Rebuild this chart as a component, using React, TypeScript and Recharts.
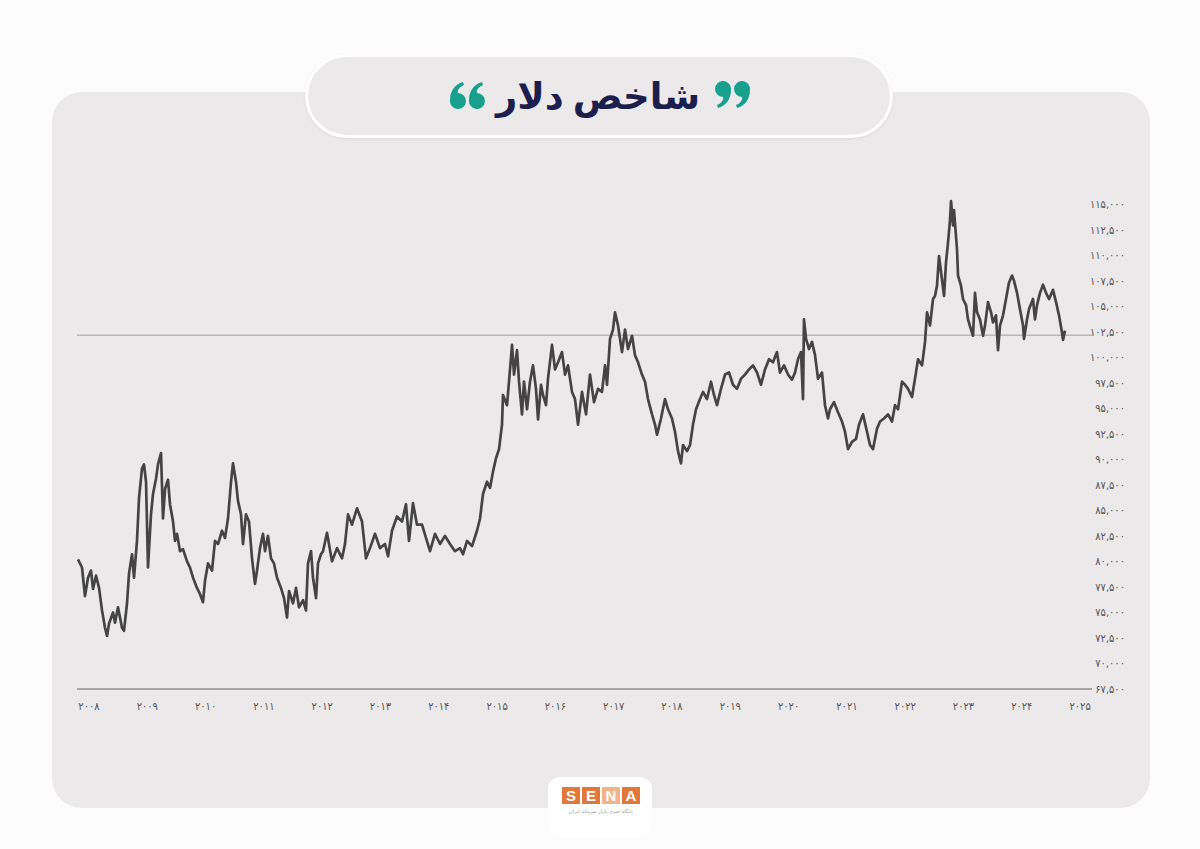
import React from 'react';
import { LineChart, Line, XAxis, YAxis, ReferenceLine } from 'recharts';

// US dollar index: [decimal year, index]
const dxy2008to2012: [number, number][] = [
  [2007.811, 80.2], [2007.88, 79.4], [2007.931, 76.6], [2007.983, 78.4], [2008.034, 79.1], [2008.069, 77.3],
  [2008.12, 78.6], [2008.172, 77.4], [2008.223, 75.2], [2008.274, 73.5], [2008.309, 72.7], [2008.343, 73.9],
  [2008.412, 75.0], [2008.446, 74.0], [2008.497, 75.5], [2008.566, 73.5], [2008.6, 73.2], [2008.652, 75.9],
  [2008.686, 78.8], [2008.738, 80.7], [2008.772, 78.4], [2008.823, 82.0], [2008.858, 86.2], [2008.909, 89.1],
  [2008.943, 89.5], [2008.978, 87.8], [2009.012, 79.4], [2009.063, 84.6], [2009.098, 86.6], [2009.149, 88.1],
  [2009.184, 89.5], [2009.235, 90.6], [2009.269, 84.2], [2009.304, 87.1], [2009.355, 88.0], [2009.389, 85.6],
  [2009.441, 83.9], [2009.475, 82.0], [2009.509, 82.7], [2009.561, 81.0], [2009.612, 81.2], [2009.681, 80.0],
  [2009.732, 79.4], [2009.784, 78.4], [2009.852, 77.4], [2009.904, 76.8], [2009.955, 76.0], [2009.99, 78.1],
  [2010.041, 79.8], [2010.11, 79.1], [2010.161, 82.0], [2010.213, 81.7], [2010.281, 83.0], [2010.333, 82.3],
  [2010.384, 84.2], [2010.436, 87.8], [2010.47, 89.6], [2010.521, 87.8], [2010.556, 85.9], [2010.607, 84.6],
  [2010.641, 81.7], [2010.693, 84.6], [2010.744, 83.9], [2010.796, 80.3], [2010.847, 77.8], [2010.882, 79.1],
  [2010.933, 81.3], [2010.985, 82.7], [2011.019, 81.0], [2011.07, 82.5], [2011.122, 80.3], [2011.173, 79.8],
  [2011.225, 78.4], [2011.293, 77.4], [2011.345, 76.4], [2011.396, 74.5], [2011.431, 77.1], [2011.499, 75.9],
  [2011.551, 77.4], [2011.602, 75.5], [2011.671, 76.2], [2011.722, 75.2], [2011.756, 79.8], [2011.808, 81.0],
  [2011.842, 78.4], [2011.894, 76.4], [2011.928, 79.8], [2011.979, 80.7], [2012.014, 81.0], [2012.082, 82.8],
];

const dxy2012to2016: [number, number][] = [
  [2012.168, 80.0], [2012.254, 81.3], [2012.34, 80.3], [2012.391, 81.7], [2012.443, 84.6], [2012.511, 83.6],
  [2012.597, 85.2], [2012.683, 83.9], [2012.751, 80.3], [2012.82, 81.3], [2012.906, 82.7], [2012.991, 81.3],
  [2013.077, 81.7], [2013.129, 80.5], [2013.197, 83.0], [2013.283, 84.4], [2013.369, 83.9], [2013.437, 85.6],
  [2013.489, 82.0], [2013.557, 85.7], [2013.626, 83.6], [2013.712, 83.6], [2013.78, 82.3], [2013.849, 81.0],
  [2013.935, 82.7], [2014.021, 81.7], [2014.106, 82.5], [2014.192, 81.7], [2014.278, 81.0], [2014.364, 81.3],
  [2014.415, 80.7], [2014.484, 82.0], [2014.57, 81.5], [2014.655, 83.0], [2014.707, 84.2], [2014.758, 86.6],
  [2014.827, 87.8], [2014.878, 87.2], [2014.93, 88.8], [2014.981, 90.1], [2015.033, 91.0], [2015.084, 93.4],
  [2015.101, 96.3], [2015.17, 95.3], [2015.204, 97.6], [2015.256, 101.2], [2015.29, 98.3], [2015.341, 100.7],
  [2015.376, 97.6], [2015.427, 94.4], [2015.461, 97.6], [2015.513, 94.9], [2015.564, 97.6], [2015.616, 99.2],
  [2015.667, 96.9], [2015.702, 93.9], [2015.753, 97.3], [2015.787, 96.3], [2015.839, 95.3], [2015.873, 97.9],
  [2015.942, 101.2], [2015.993, 98.8], [2016.045, 99.5], [2016.113, 100.5], [2016.165, 98.3], [2016.216, 99.2],
  [2016.285, 96.6], [2016.336, 95.9], [2016.388, 93.4],
];

const dxy2016to2020: [number, number][] = [
  [2016.456, 96.6], [2016.525, 94.4], [2016.593, 98.3], [2016.662, 95.6], [2016.731, 96.9], [2016.799, 96.6],
  [2016.851, 99.2], [2016.885, 97.3], [2016.937, 101.8], [2016.988, 102.7], [2017.022, 104.4], [2017.074, 103.1],
  [2017.142, 100.5], [2017.194, 102.7], [2017.245, 100.8], [2017.314, 102.1], [2017.365, 100.2], [2017.417, 99.5],
  [2017.485, 98.3], [2017.537, 97.6], [2017.588, 95.9], [2017.657, 94.4], [2017.708, 93.4], [2017.743, 92.4],
  [2017.811, 94.0], [2017.88, 95.9], [2017.931, 94.9], [2018.0, 94.0], [2018.051, 92.7], [2018.103, 90.8],
  [2018.154, 89.6], [2018.189, 91.4], [2018.257, 90.8], [2018.309, 91.4], [2018.36, 93.4], [2018.412, 94.9],
  [2018.48, 95.9], [2018.532, 96.6], [2018.6, 95.9], [2018.669, 97.6], [2018.72, 96.3], [2018.772, 95.3],
  [2018.84, 96.9], [2018.909, 98.3], [2018.978, 98.5], [2019.046, 97.3], [2019.115, 96.9], [2019.184, 97.9],
  [2019.252, 98.3], [2019.321, 98.8], [2019.389, 99.2], [2019.458, 98.5], [2019.527, 97.3], [2019.595, 98.8],
  [2019.664, 99.8], [2019.732, 99.5], [2019.801, 100.5], [2019.852, 98.5], [2019.921, 99.2], [2019.99, 98.3],
  [2020.058, 97.8], [2020.11, 98.5], [2020.161, 99.8], [2020.213, 100.5], [2020.247, 95.9], [2020.264, 103.7],
  [2020.299, 101.8], [2020.35, 100.8], [2020.401, 101.5], [2020.453, 100.2], [2020.504, 97.9], [2020.573, 98.5],
  [2020.624, 95.3], [2020.676, 94.0],
];

const dxy2020to2024: [number, number][] = [
  [2020.71, 94.9], [2020.779, 95.6], [2020.847, 94.6], [2020.916, 93.7], [2020.967, 92.7], [2021.019, 91.0],
  [2021.087, 91.7], [2021.156, 92.0], [2021.208, 93.4], [2021.276, 94.4], [2021.345, 92.7], [2021.396, 91.4],
  [2021.448, 91.0], [2021.516, 93.0], [2021.568, 93.7], [2021.636, 94.0], [2021.705, 94.4], [2021.774, 93.7],
  [2021.825, 95.3], [2021.877, 94.9], [2021.945, 97.6], [2021.997, 97.3], [2022.048, 96.9], [2022.117, 96.1],
  [2022.168, 97.9], [2022.22, 99.8], [2022.288, 99.2], [2022.34, 101.5], [2022.374, 104.4], [2022.425, 103.1],
  [2022.477, 105.7], [2022.511, 106.0], [2022.545, 107.0], [2022.58, 109.9], [2022.631, 107.6], [2022.666, 106.0],
  [2022.7, 109.3], [2022.734, 111.2], [2022.768, 113.4], [2022.786, 115.3], [2022.82, 112.9], [2022.837, 114.4],
  [2022.889, 110.5], [2022.906, 108.0], [2022.957, 107.0], [2022.991, 105.7], [2023.043, 105.1], [2023.077, 103.7],
  [2023.129, 102.7], [2023.163, 102.1], [2023.197, 106.3], [2023.232, 104.4], [2023.283, 103.7], [2023.335, 102.1],
  [2023.369, 103.1], [2023.42, 105.4], [2023.472, 104.4], [2023.506, 103.4], [2023.557, 104.1], [2023.592, 100.7],
  [2023.626, 103.1], [2023.678, 104.1], [2023.729, 105.7], [2023.78, 107.3], [2023.832, 108.0], [2023.866, 107.5],
  [2023.918, 106.3], [2023.969, 104.7], [2024.021, 103.1], [2024.038, 101.8], [2024.089, 103.7], [2024.123, 104.7],
  [2024.192, 105.7], [2024.226, 103.7], [2024.261, 105.1], [2024.312, 106.3], [2024.364, 107.1], [2024.415, 106.3],
  [2024.467, 105.7], [2024.535, 106.6], [2024.587, 105.4], [2024.638, 104.1], [2024.69, 102.4], [2024.707, 101.7],
  [2024.741, 102.6],
];

const yearTicks = [2008, 2009, 2010, 2011, 2012, 2013, 2014, 2015, 2016, 2017, 2018, 2019, 2020, 2021, 2022, 2023, 2024, 2025];
const valueTicks = [67500, 70000, 72500, 75000, 77500, 80000, 82500, 85000, 87500, 90000, 92500, 95000, 97500, 100000, 102500, 105000, 107500, 110000, 112500, 115000];
const refLevel = 102150;

const faDigits = '۰۱۲۳۴۵۶۷۸۹';
const toFa = (s: string) => s.replace(/\d/g, (d) => faDigits[Number(d)]);

const tickFont = "'DejaVu Sans Condensed', 'DejaVu Sans', sans-serif";

const YearTick = ({ x, y, payload }: any) => (
  <text x={x} y={y + 21} textAnchor="middle" fontSize={11} fill="#555" fontFamily={tickFont}>
    {toFa(String(payload.value))}
  </text>
);

const ValueTick = ({ x, y, payload }: any) => (
  <text x={x + 33} y={y + 4} textAnchor="end" fontSize={11} fill="#555" fontFamily={tickFont}>
    {toFa(payload.value.toLocaleString('en-US'))}
  </text>
);

// teal "6"-shaped quote mark; flipped it becomes the "9" shape
const quoteMark = 'M0 18 C0 9 5 2 13 0 L14 3 C9 5 7 9 8 11 A8 8 0 1 1 0 18 Z';

const Quotes = ({ flip }: { flip?: boolean }) => (
  <svg width={38} height={28} viewBox="0 0 38 28" style={{ display: 'block' }}>
    <g fill="#18a08f" transform={flip ? 'rotate(180 19 14)' : undefined}>
      <path d={quoteMark} transform="translate(1 1)" />
      <path d={quoteMark} transform="translate(20 1)" />
    </g>
  </svg>
);

export default function App() {
  const data = [...dxy2008to2012, ...dxy2012to2016, ...dxy2016to2020, ...dxy2020to2024].map(([t, v]) => ({ t, v: v * 1000 }));

  return (
    <div style={{ position: 'absolute', left: 0, top: 0, width: 1200, height: 849, background: '#fcfcfc', overflow: 'hidden', fontFamily: "'DejaVu Sans', sans-serif" }}>
      {/* gray card */}
      <div style={{ position: 'absolute', left: 52, top: 92, width: 1098, height: 716, borderRadius: 30, background: '#ebe9ea' }} />

      {/* title pill */}
      <div
        style={{
          position: 'absolute', left: 305, top: 54, width: 588, height: 84, boxSizing: 'border-box',
          borderRadius: 42, background: '#ebe9ea', border: '3px solid #fff', boxShadow: '0 1px 3px rgba(0,0,0,0.08)',
        }}
      >
        <div style={{ position: 'absolute', left: 141, top: 24 }}>
          <Quotes />
        </div>
        <div dir="rtl" style={{ position: 'absolute', left: 140, width: 300, top: 16, textAlign: 'center', color: '#1c1f4d', fontSize: 37, fontWeight: 700, lineHeight: '48px', whiteSpace: 'nowrap', wordSpacing: -4 }}>
          شاخص دلار
        </div>
        <div style={{ position: 'absolute', left: 405, top: 24 }}>
          <Quotes flip />
        </div>
      </div>

      {/* chart */}
      <div style={{ position: 'absolute', left: 0, top: 0 }}>
        <LineChart width={1200} height={849} data={data} margin={{ top: 201, right: 68, bottom: 140, left: 77 }}>
          <XAxis
            dataKey="t"
            type="number"
            domain={[2007.794, 2025.204]}
            ticks={yearTicks}
            interval={0}
            height={20}
            tickSize={0}
            tickMargin={0}
            tickLine={false}
            axisLine={{ stroke: '#a5a5a5', strokeWidth: 2 }}
            tick={<YearTick />}
          />
          <YAxis
            orientation="right"
            type="number"
            domain={[67500, 115000]}
            ticks={valueTicks}
            interval={0}
            width={40}
            tickSize={0}
            tickMargin={0}
            tickLine={false}
            axisLine={false}
            tick={<ValueTick />}
          />
          <ReferenceLine y={refLevel} stroke="#b8b8b8" strokeWidth={1.5} />
          <Line type="linear" dataKey="v" stroke="#444" strokeWidth={2.7} strokeLinejoin="round" dot={false} isAnimationActive={false} />
        </LineChart>
      </div>

      {/* SENA logo */}
      <div style={{ position: 'absolute', left: 548, top: 777, width: 104, height: 60, borderRadius: 12, background: '#fff' }}>
        <div style={{ position: 'absolute', left: 14, top: 10, display: 'flex', gap: 2 }}>
          {['S', 'E', 'N', 'A'].map((ch, i) => (
            <div
              key={ch}
              style={{
                width: 18, height: 17, background: i === 2 ? '#f1b48a' : '#e2773a', color: '#fff',
                fontSize: 15, fontWeight: 700, lineHeight: '17px', textAlign: 'center', fontFamily: "'Liberation Sans', Arial, sans-serif",
              }}
            >
              {ch}
            </div>
          ))}
        </div>
        <div dir="rtl" style={{ position: 'absolute', left: 14, top: 31, width: 78, fontSize: 5, color: '#999', textAlign: 'center', whiteSpace: 'nowrap' }}>
          پایگاه خبری بازار سرمایه ایران
        </div>
      </div>
    </div>
  );
}
